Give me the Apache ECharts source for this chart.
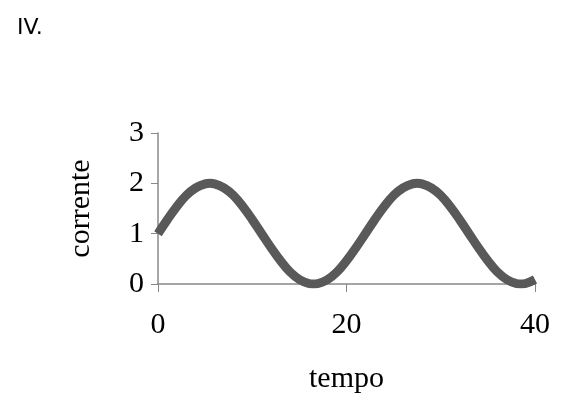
<!DOCTYPE html>
<html><head><meta charset="utf-8">
<script src="https://cdn.jsdelivr.net/npm/echarts@6/dist/echarts.min.js"></script>
<style>html,body{margin:0;padding:0;background:#fff}#c{width:563px;height:402px}</style>
</head><body><div id="c"></div>
<script>
const tempo = [0,1,2,3,4,5,5.5,6,7,8,9,10,11,12,13,14,15,16,16.5,17,18,19,20,21,22,23,24,25,26,27,27.5,28,29,30,31,32,33,34,35,36,37,38,38.5,39,40];
const corrente = [1.00,1.28,1.54,1.76,1.91,1.99,2.00,1.99,1.91,1.76,1.54,1.28,1.00,0.72,0.46,0.24,0.09,0.01,0.00,0.01,0.09,0.24,0.46,0.72,1.00,1.28,1.54,1.76,1.91,1.99,2.00,1.99,1.91,1.76,1.54,1.28,1.00,0.72,0.46,0.24,0.09,0.01,0.00,0.01,0.09];
const xTicks = [0,20,40];
const yTicks = [0,1,2,3];
const serif = 'Liberation Serif';
const chart = echarts.init(document.getElementById('c'));
chart.setOption({
  animation:false,
  title:{text:'IV.',left:12,top:12,textStyle:{fontFamily:'DejaVu Sans',fontSize:22,fontWeight:'normal',color:'#000'}},
  grid:{left:158,right:28,top:133,bottom:118},
  xAxis:{type:'value',min:0,max:40,interval:20,
    name:'tempo',nameLocation:'middle',nameGap:80,
    nameTextStyle:{fontFamily:serif,fontSize:30,color:'#000'},
    axisLine:{lineStyle:{color:'#888',width:1.5}},
    axisTick:{show:true,inside:false,length:8,lineStyle:{color:'#888'}},
    axisLabel:{fontFamily:serif,fontSize:30,color:'#000',margin:26},
    splitLine:{show:false}},
  yAxis:{type:'value',min:0,max:3,interval:1,
    name:'corrente',nameLocation:'middle',nameGap:62,
    nameTextStyle:{fontFamily:serif,fontSize:30,color:'#000'},
    axisLine:{show:true,lineStyle:{color:'#888',width:1.5}},
    axisTick:{show:true,length:7,lineStyle:{color:'#888'}},
    axisLabel:{fontFamily:serif,fontSize:30,color:'#000',margin:14},
    splitLine:{show:false}},
  series:[{type:'line',smooth:0.4,showSymbol:false,
    data:tempo.map((t,i)=>[t,corrente[i]]),
    lineStyle:{color:'#595959',width:9}}]
});
</script></body></html>
